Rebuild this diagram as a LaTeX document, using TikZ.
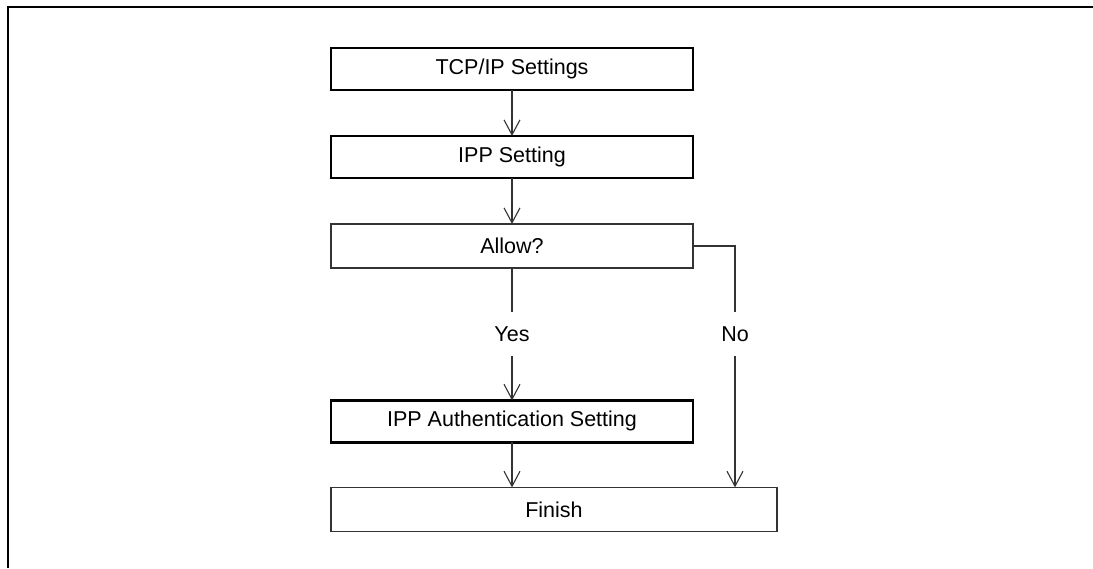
\documentclass[tikz,border=0pt]{standalone}
\usepackage{fontspec}
\setmainfont{Liberation Sans}
\usepackage{tikz}
\usetikzlibrary{arrows.meta,positioning}
\definecolor{cLine}{HTML}{333333}
\tikzset{
  node distance=46pt,
  txt/.style    ={font=\fontsize{21.5}{26}\selectfont},
  stp/.style    ={rectangle, draw=black, line width=2.8pt, fill=white, txt,
                  minimum width=362pt, minimum height=42pt, inner sep=0pt, outer sep=0pt},
  plain/.style  ={rectangle, draw=cLine, line width=1.4pt, fill=white, txt,
                  minimum width=362pt, minimum height=44pt, inner sep=0pt, outer sep=0pt},
  lbl/.style    ={txt, minimum height=44pt, inner sep=0pt},
  ln/.style     ={draw=cLine, line width=1.1pt},
  arr/.style    ={ln, -{Straight Barb[length=15pt,width=16pt]}},
}
\begin{document}
\begin{tikzpicture}[x=1pt,y=1pt]
  \useasboundingbox (0,0) rectangle (1093,-568);
  \draw[line width=2.6pt] (8,-568) -- (8,-7) -- (1093,-7);
  \node[stp] (tcp) at (512,-69) {TCP/IP Settings};
  \node[stp,below=of tcp] (ipp) {IPP Setting};
  \node[plain,below=of ipp] (allow) {Allow?};
  \node[lbl,below=44pt of allow] (yes) {Yes};
  \node[lbl] (no) at ([xshift=42pt]allow.east |- yes) {No};
  \node[stp,below=44pt of yes] (auth) {IPP Authentication Setting};
  \node[plain,minimum width=446pt,below=45pt of auth.south west,anchor=north west] (fin) {Finish};
  \draw[arr](tcp)--(ipp);\draw[arr](ipp)--(allow);
  \draw[ln](allow)--(yes);\draw[arr](yes)--(auth);
  \draw[arr](auth.south)--(auth.south |- fin.north);
  \draw[ln](allow.east)-|(no.north);
  \draw[arr](no.south)--(no.south |- fin.north);
\end{tikzpicture}
\end{document}
